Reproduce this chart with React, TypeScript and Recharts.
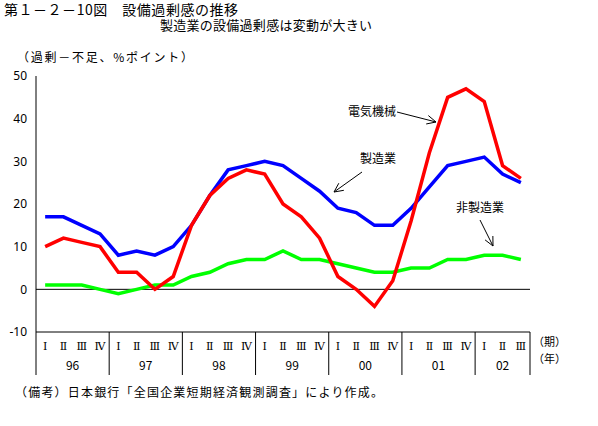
import React from "react";
import { LineChart, Line, XAxis, YAxis, ReferenceLine } from "recharts";

// 四半期（96年Ⅰ期〜02年Ⅲ期）
const YEARS = ["96", "97", "98", "99", "00", "01", "02"];
const QUARTER_NAMES = ["Ⅰ", "Ⅱ", "Ⅲ", "Ⅳ"];
const N_QUARTERS = 27;

// 設備過剰感 DI（過剰－不足、%ポイント）
const SEIZOGYO = [17, 17, 15, 13, 8, 9, 8, 10, 15, 22, 28, 29, 30, 29, 26, 23, 19, 18, 15, 15, 19, 24, 29, 30, 31, 27, 25];
const DENKI_KIKAI = [10, 12, 11, 10, 4, 4, 0, 3, 15, 22, 26, 28, 27, 20, 17, 12, 3, 0, -4, 2, 16, 32, 45, 47, 44, 29, 26];
const HI_SEIZOGYO = [1, 1, 1, 0, -1, 0, 1, 1, 3, 4, 6, 7, 7, 9, 7, 7, 6, 5, 4, 4, 5, 5, 7, 7, 8, 8, 7];

const Y_TICKS = [-10, 0, 10, 20, 30, 40, 50];

const data = SEIZOGYO.map((v, i) => ({
  key: `${YEARS[Math.floor(i / 4)]}-${i % 4}`,
  seizo: v,
  denki: DENKI_KIKAI[i],
  hiseizo: HI_SEIZOGYO[i],
}));

const W = 598;
const H = 426;
const PLOT_LEFT = 36;
const PLOT_RIGHT = 530;
const PLOT_TOP = 76;
const PLOT_BOTTOM = 332;
const XAXIS_H = 43;
const HALF = (PLOT_RIGHT - PLOT_LEFT) / N_QUARTERS / 2;

const JP = "'Noto Sans CJK JP', 'Noto Sans', sans-serif";

function QuarterTick(props: any) {
  const { x, y, payload } = props;
  const i = payload.index as number;
  const q = i % 4;
  const yr = Math.floor(i / 4);
  const lastYearLen = N_QUARTERS - 4 * (YEARS.length - 1);
  const yearLen = yr === YEARS.length - 1 ? lastYearLen : 4;
  return (
    <g>
      <text x={x} y={y + 18} textAnchor="middle" fontSize={11} fontFamily="'DejaVu Serif', serif" fill="#000">
        {QUARTER_NAMES[q]}
      </text>
      {q === 0 && <line x1={x - HALF} x2={x - HALF} y1={y} y2={y + XAXIS_H} stroke="#000" strokeWidth={1} />}
      {q === 1 && (
        <text
          x={yearLen === 4 ? x + HALF : x}
          y={y + 38}
          textAnchor="middle"
          fontSize={12}
          fontFamily={JP}
          fill="#000"
        >
          {YEARS[yr]}
        </text>
      )}
      {i === N_QUARTERS - 1 && (
        <line x1={x + HALF} x2={x + HALF} y1={y} y2={y + XAXIS_H} stroke="#000" strokeWidth={1} />
      )}
    </g>
  );
}

function Arrow({ x1, y1, x2, y2 }: { x1: number; y1: number; x2: number; y2: number }) {
  const a = Math.atan2(y2 - y1, x2 - x1);
  const len = 10;
  const spread = 0.45;
  const h1 = [x2 - len * Math.cos(a - spread), y2 - len * Math.sin(a - spread)];
  const h2 = [x2 - len * Math.cos(a + spread), y2 - len * Math.sin(a + spread)];
  return (
    <g stroke="#000" strokeWidth={1} fill="none">
      <line x1={x1} y1={y1} x2={x2} y2={y2} />
      <polyline points={`${h1[0]},${h1[1]} ${x2},${y2} ${h2[0]},${h2[1]}`} />
    </g>
  );
}

export default function App() {
  return (
    <div style={{ position: "absolute", left: 0, top: 0, width: W, height: H, background: "#fff" }}>
      <LineChart
        width={W}
        height={H}
        data={data}
        margin={{ top: PLOT_TOP, right: W - PLOT_RIGHT, bottom: H - PLOT_BOTTOM - XAXIS_H, left: PLOT_LEFT - 30 }}
      >
        <XAxis
          dataKey="key"
          height={XAXIS_H}
          interval={0}
          padding={{ left: HALF, right: HALF }}
          axisLine={{ stroke: "#000", strokeWidth: 1 }}
          tickLine={false}
          tickSize={0}
          tickMargin={0}
          tick={<QuarterTick />}
        />
        <XAxis
          xAxisId="top"
          dataKey="key"
          orientation="top"
          height={0}
          tick={false}
          tickLine={false}
          axisLine={{ stroke: "#000", strokeWidth: 1 }}
        />
        <YAxis
          width={30}
          domain={[-10, 50]}
          ticks={Y_TICKS}
          interval={0}
          tickLine={false}
          tickSize={0}
          tickMargin={9}
          axisLine={{ stroke: "#000", strokeWidth: 1 }}
          tick={{ fontSize: 12, fill: "#000", fontFamily: "'Liberation Sans Narrow', 'Noto Sans', sans-serif" }}
        />
        <YAxis
          yAxisId="r"
          orientation="right"
          width={0}
          domain={[-10, 50]}
          tick={false}
          tickLine={false}
          axisLine={{ stroke: "#000", strokeWidth: 1 }}
        />
        <ReferenceLine y={0} stroke="#000" strokeWidth={1} />
        <Line dataKey="hiseizo" stroke="#00ff00" strokeWidth={3.5} dot={false} type="linear" isAnimationActive={false} />
        <Line dataKey="seizo" stroke="#0000ff" strokeWidth={3.5} dot={false} type="linear" isAnimationActive={false} />
        <Line dataKey="denki" stroke="#ff0000" strokeWidth={3.5} dot={false} type="linear" isAnimationActive={false} />
      </LineChart>
      <svg width={W} height={H} style={{ position: "absolute", left: 0, top: 0, pointerEvents: "none" }}>
        <g fontFamily={JP} fill="#000">
          <text x={4} y={15} fontSize={14} textLength={234} lengthAdjust="spacing">
            第１－２－10図　設備過剰感の推移
          </text>
          <text x={160} y={30} fontSize={13} textLength={212} lengthAdjust="spacing">
            製造業の設備過剰感は変動が大きい
          </text>
          <text x={17} y={62} fontSize={12} textLength={176} lengthAdjust="spacing">
            （過剰－不足、%ポイント）
          </text>
          <text x={348} y={116} fontSize={12}>電気機械</text>
          <text x={360} y={163} fontSize={12}>製造業</text>
          <text x={456} y={212} fontSize={12}>非製造業</text>
          <text x={533} y={346} fontSize={11}>（期）</text>
          <text x={533} y={363} fontSize={11}>（年）</text>
          <text x={15} y={397} fontSize={12} textLength={368} lengthAdjust="spacing">
            （備考）日本銀行「全国企業短期経済観測調査」により作成。
          </text>
        </g>
        <Arrow x1={397} y1={112} x2={436} y2={122} />
        <Arrow x1={362} y1={172} x2={334} y2={192} />
        <Arrow x1={480} y1={220} x2={493} y2={246} />
      </svg>
    </div>
  );
}
